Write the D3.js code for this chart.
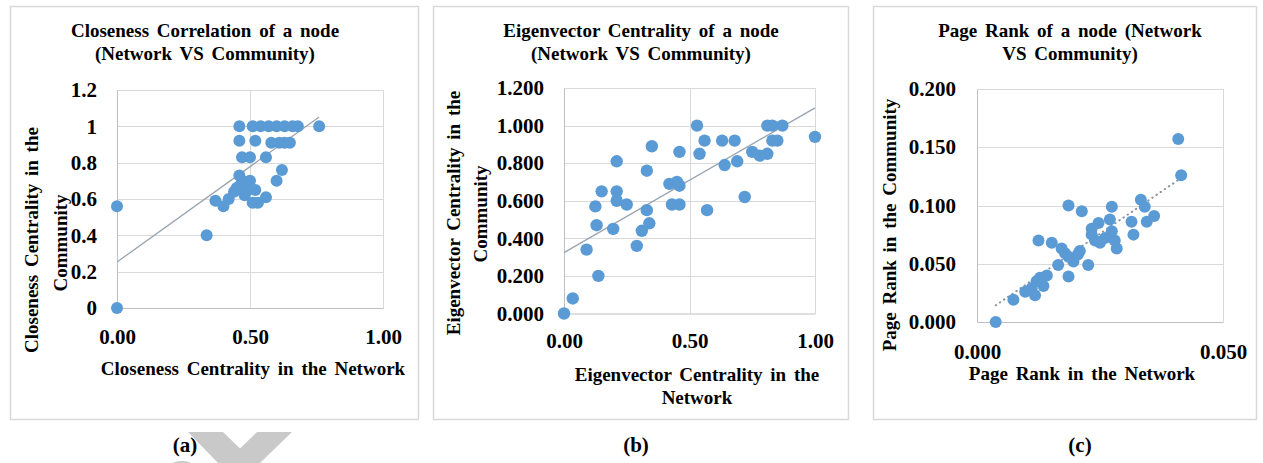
<!DOCTYPE html>
<html>
<head>
<meta charset="utf-8">
<script src="https://cdn.jsdelivr.net/npm/d3@7"></script>
<style>
  html, body { margin: 0; padding: 0; background: #fff; }
  svg { display: block; }
  text { font-family: "Liberation Serif", "Times New Roman", serif; font-weight: bold; fill: #000; }
</style>
</head>
<body>
<svg id="chart" width="1263" height="463"></svg>
<script>
// ---------- Panel (a): Closeness ----------
const closenessNetwork = [0, 0, 0.337, 0.37, 0.40, 0.42, 0.44, 0.45, 0.46, 0.47, 0.49, 0.50, 0.52, 0.51, 0.53, 0.56, 0.46, 0.48,
  0.60, 0.62, 0.47, 0.50, 0.56, 0.46, 0.52, 0.58, 0.61, 0.63, 0.65,
  0.46, 0.51, 0.54, 0.57, 0.60, 0.63, 0.66, 0.68, 0.76];
const closenessCommunity = [0, 0.56, 0.40, 0.59, 0.56, 0.60, 0.64, 0.66, 0.73, 0.70, 0.65, 0.70, 0.65, 0.58, 0.58, 0.61, 0.67, 0.62,
  0.70, 0.76, 0.83, 0.83, 0.83, 0.92, 0.92, 0.91, 0.91, 0.91, 0.91,
  1.0, 1.0, 1.0, 1.0, 1.0, 1.0, 1.0, 1.0, 1.0];
const closenessXTicks = [0, 0.5, 1];
const closenessXLabels = ["0.00", "0.50", "1.00"];
const closenessYTicks = [0, 0.2, 0.4, 0.6, 0.8, 1.0, 1.2];
const closenessYLabels = ["0", "0.2", "0.4", "0.6", "0.8", "1", "1.2"];
const closenessTrend = { intercept: 0.253, slope: 1.05, from: 0, to: 0.76 };

// ---------- Panel (b): Eigenvector ----------
const eigenNetwork = [0.0, 0.035, 0.09, 0.137, 0.13, 0.125, 0.15, 0.196, 0.21, 0.21, 0.21, 0.25, 0.29, 0.31, 0.33, 0.34, 0.33, 0.35,
  0.42, 0.45, 0.46, 0.43, 0.46, 0.46, 0.53, 0.54, 0.56, 0.57, 0.63, 0.64, 0.68, 0.69, 0.72,
  0.75, 0.78, 0.81, 0.81, 0.83, 0.87, 0.83, 0.85, 1.0];
const eigenCommunity = [0.0, 0.08, 0.34, 0.20, 0.47, 0.57, 0.65, 0.45, 0.81, 0.65, 0.60, 0.58, 0.36, 0.44, 0.55, 0.48, 0.76, 0.89,
  0.69, 0.70, 0.68, 0.58, 0.58, 0.86, 1.0, 0.85, 0.92, 0.55, 0.92, 0.79, 0.92, 0.81, 0.62,
  0.86, 0.84, 0.85, 1.0, 1.0, 1.0, 0.92, 0.92, 0.94];
const eigenXTicks = [0, 0.5, 1];
const eigenXLabels = ["0.00", "0.50", "1.00"];
const eigenYTicks = [0, 0.2, 0.4, 0.6, 0.8, 1.0, 1.2];
const eigenYLabels = ["0.000", "0.200", "0.400", "0.600", "0.800", "1.000", "1.200"];
const eigenTrend = { intercept: 0.324, slope: 0.77, from: 0, to: 1.0 };

// ---------- Panel (c): Page Rank ----------
const pageRankNetwork = [0.0038, 0.0074, 0.0098, 0.0111, 0.0118, 0.0121, 0.0128, 0.0142, 0.0125, 0.0152, 0.0172, 0.0179, 0.0186,
  0.0165, 0.0186, 0.0196, 0.0209, 0.0226, 0.0186, 0.0213, 0.0233, 0.0240, 0.0250, 0.0247, 0.0274, 0.0270, 0.0274,
  0.0280, 0.0284, 0.0260, 0.0314, 0.0318, 0.0333, 0.0341, 0.0345, 0.0360, 0.0409, 0.0415, 0.0233, 0.0135, 0.0205];
const pageRankCommunity = [0.0, 0.019, 0.026, 0.029, 0.023, 0.035, 0.038, 0.040, 0.070, 0.068, 0.063, 0.059, 0.056,
  0.049, 0.039, 0.052, 0.061, 0.049, 0.100, 0.095, 0.075, 0.070, 0.068, 0.085, 0.099, 0.088, 0.078,
  0.070, 0.063, 0.072, 0.086, 0.075, 0.105, 0.099, 0.086, 0.091, 0.157, 0.126, 0.080, 0.031, 0.058];
const pageRankXTicks = [0, 0.05];
const pageRankXLabels = ["0.000", "0.050"];
const pageRankYTicks = [0, 0.05, 0.10, 0.15, 0.20];
const pageRankYLabels = ["0.000", "0.050", "0.100", "0.150", "0.200"];
const pageRankTrend = { intercept: 0.0033, slope: 2.9, from: 0.0038, to: 0.0415 };

const svg = d3.select("#chart");
const DOT = "#5b9bd5";
const GRID = "#d9d9d9";
const TXT = "19px";

function drawPanel(cfg) {
  const g = svg.append("g");
  g.append("rect").attr("x", cfg.box[0] + 0.5).attr("y", cfg.box[1] + 0.5)
    .attr("width", cfg.box[2]).attr("height", cfg.box[3])
    .attr("fill", "#fff").attr("stroke", GRID).attr("stroke-width", 1.5);

  const x = d3.scaleLinear().domain(cfg.xDomain).range(cfg.xRange);
  const y = d3.scaleLinear().domain(cfg.yDomain).range(cfg.yRange);

  g.append("g").selectAll("line").data(cfg.yTicks.slice(1)).join("line")
    .attr("x1", cfg.xRange[0]).attr("x2", cfg.xRange[1])
    .attr("y1", d => Math.round(y(d)) + 0.5).attr("y2", d => Math.round(y(d)) + 0.5)
    .attr("stroke", GRID).attr("stroke-width", 1);
  g.append("g").selectAll("line").data(cfg.xTicks.slice(1)).join("line")
    .attr("x1", d => Math.round(x(d)) + 0.5).attr("x2", d => Math.round(x(d)) + 0.5)
    .attr("y1", cfg.yRange[0]).attr("y2", cfg.yRange[1])
    .attr("stroke", GRID).attr("stroke-width", 1);

  const yAxis = d3.axisLeft(y).tickValues(cfg.yTicks)
    .tickFormat((d, i) => cfg.yLabels[i]).tickSize(0).tickPadding(cfg.yPad);
  const ya = g.append("g").attr("transform", `translate(${cfg.xRange[0]},0)`).call(yAxis);
  ya.select(".domain").attr("stroke", "#bfbfbf");
  ya.selectAll("text").style("font-family", '"Liberation Serif", serif').style("font-weight", "bold")
    .style("font-size", "21px").attr("fill", "#000");

  const xAxis = d3.axisBottom(x).tickValues(cfg.xTicks)
    .tickFormat((d, i) => cfg.xLabels[i]).tickSize(0).tickPadding(cfg.xPad);
  const xa = g.append("g").attr("transform", `translate(0,${cfg.yRange[0]})`).call(xAxis);
  xa.select(".domain").attr("stroke", "#bfbfbf");
  xa.selectAll("text").style("font-family", '"Liberation Serif", serif').style("font-weight", "bold")
    .style("font-size", "21px").attr("fill", "#000");

  const t = cfg.trend;
  g.append("line")
    .attr("x1", x(t.from)).attr("y1", y(t.intercept + t.slope * t.from))
    .attr("x2", x(t.to)).attr("y2", y(t.intercept + t.slope * t.to))
    .attr("stroke", cfg.trendColor).attr("stroke-width", cfg.trendWidth)
    .attr("stroke-dasharray", cfg.trendDash || null)
    .attr("stroke-linecap", cfg.trendDash ? "round" : "butt");

  g.append("g").selectAll("circle").data(cfg.xs.map((v, i) => [v, cfg.ys[i]])).join("circle")
    .attr("cx", d => x(d[0])).attr("cy", d => y(d[1])).attr("r", cfg.r)
    .attr("fill", DOT);

  const addText = (sel) => sel.attr("text-anchor", "middle").style("font-size", TXT).style("word-spacing", "3px");
  cfg.title.forEach((line, i) => {
    addText(g.append("text").attr("x", cfg.titleX).attr("y", cfg.titleY[i])).text(line);
  });
  cfg.xTitle.forEach((line, i) => {
    addText(g.append("text").attr("x", cfg.xTitleX).attr("y", cfg.xTitleY[i])).text(line);
  });
  cfg.yTitle.forEach((line, i) => {
    addText(g.append("text").attr("transform", `translate(${cfg.yTitleX[i]},${cfg.yTitleY[i]}) rotate(-90)`)).text(line);
  });
  g.append("text").attr("x", cfg.tagX).attr("y", 452).attr("text-anchor", "middle")
    .style("font-size", "21px").text(cfg.tag);
}

drawPanel({
  box: [10, 6, 408, 413],
  xDomain: [0, 1], xRange: [117, 383], yDomain: [0, 1.2], yRange: [308, 90],
  xTicks: closenessXTicks, xLabels: closenessXLabels, yTicks: closenessYTicks, yLabels: closenessYLabels,
  yPad: 20, xPad: 21,
  xs: closenessNetwork, ys: closenessCommunity, r: 6,
  trend: closenessTrend, trendColor: "#98a4b0", trendWidth: 1.3,
  title: ["Closeness Correlation of a node", "(Network VS Community)"], titleX: 205, titleY: [37, 60],
  xTitle: ["Closeness Centrality in the Network"], xTitleX: 253, xTitleY: [375],
  yTitle: ["Closeness Centrality in the", "Community"], yTitleX: [38, 67], yTitleY: [240, 243],
  tag: "(a)", tagX: 185
});

drawPanel({
  box: [433, 6, 415, 413],
  xDomain: [0, 1], xRange: [564, 815], yDomain: [0, 1.2], yRange: [313.5, 88],
  xTicks: eigenXTicks, xLabels: eigenXLabels, yTicks: eigenYTicks, yLabels: eigenYLabels,
  yPad: 20, xPad: 19.5,
  xs: eigenNetwork, ys: eigenCommunity, r: 6.2,
  trend: eigenTrend, trendColor: "#98a4b0", trendWidth: 1.3,
  title: ["Eigenvector Centrality of a node", "(Network VS Community)"], titleX: 641, titleY: [37, 60],
  xTitle: ["Eigenvector Centrality in the", "Network"], xTitleX: 697, xTitleY: [381, 404],
  yTitle: ["Eigenvector Centrality in the", "Community"], yTitleX: [460, 487], yTitleY: [213, 214],
  tag: "(b)", tagX: 636
});

drawPanel({
  box: [873, 6, 383, 413],
  xDomain: [0, 0.05], xRange: [977, 1223], yDomain: [0, 0.2], yRange: [322, 89],
  xTicks: pageRankXTicks, xLabels: pageRankXLabels, yTicks: pageRankYTicks, yLabels: pageRankYLabels,
  yPad: 21, xPad: 22,
  xs: pageRankNetwork, ys: pageRankCommunity, r: 6,
  trend: pageRankTrend, trendColor: "#8a96a2", trendWidth: 2, trendDash: "0.5,4.5",
  title: ["Page Rank of a node (Network", "VS Community)"], titleX: 1070, titleY: [37, 60],
  xTitle: ["Page Rank in the Network"], xTitleX: 1082, xTitleY: [380],
  yTitle: ["Page Rank in the Community"], yTitleX: [896], yTitleY: [225],
  tag: "(c)", tagX: 1080
});

// faint watermark decoration near the (a) caption
const wm = svg.append("g").attr("fill", "#c9c9c9");
wm.append("path").attr("d", "M188,432 L223,432 L255,463 L218,463 Z");
wm.append("path").attr("d", "M257,432 L292,432 L260,463 L225,463 Z");
wm.append("ellipse").attr("cx", 182).attr("cy", 475).attr("rx", 18).attr("ry", 14);
svg.selectAll("text").filter(function(){ return this.textContent === "(a)"; }).raise();
</script>
</body>
</html>
